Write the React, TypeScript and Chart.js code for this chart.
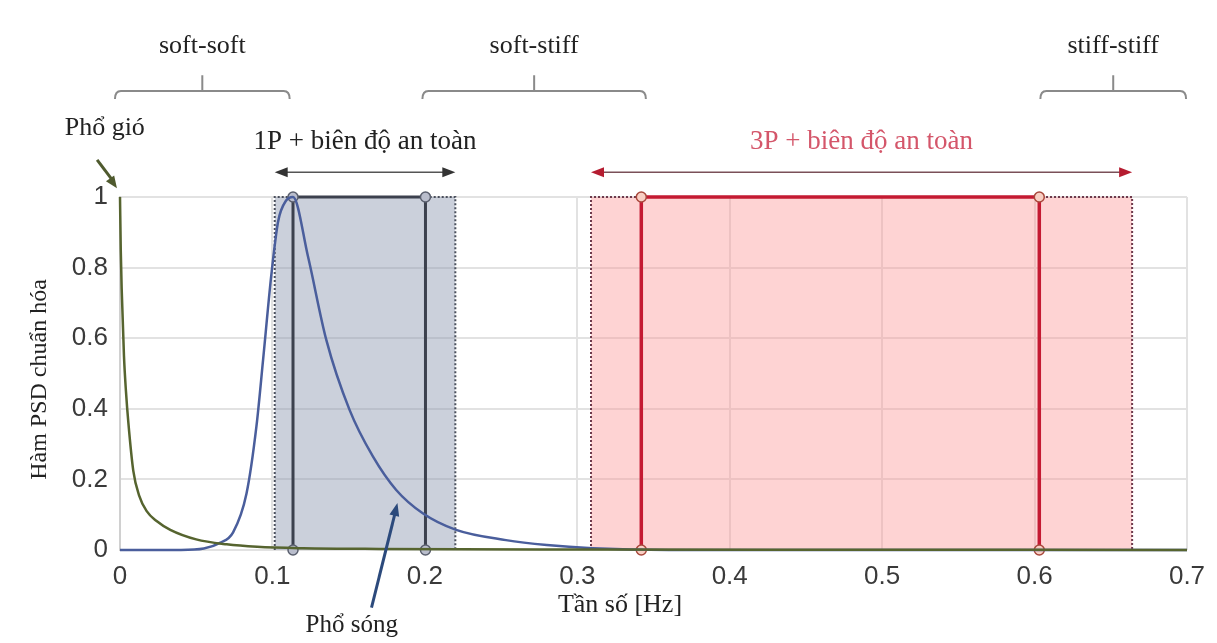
import React, { useEffect, useRef } from "react";
import { Chart, registerables } from "chart.js";

Chart.register(...registerables);

// ---- Data ----
const windFreq = [0, 0.0005, 0.0011, 0.0026, 0.0039, 0.0055, 0.0087, 0.0125, 0.0175, 0.024, 0.033, 0.05, 0.07, 0.09, 0.12, 0.17, 0.3, 0.5, 0.7];
const windPsd = [1, 0.85, 0.74, 0.55, 0.45, 0.36, 0.225, 0.155, 0.11, 0.082, 0.057, 0.03, 0.016, 0.009, 0.005, 0.003, 0.0015, 0.0007, 0.0003];

const waveFreq = [0, 0.04, 0.055, 0.0655, 0.0742, 0.083, 0.0895, 0.0939, 0.0993, 0.1037, 0.109, 0.1135, 0.1233, 0.1353, 0.1506, 0.1659, 0.1812, 0.1986, 0.2205, 0.2532, 0.28, 0.31, 0.36, 0.7];
const wavePsd = [0, 0, 0.004, 0.02, 0.05, 0.16, 0.35, 0.54, 0.78, 0.93, 0.99, 1, 0.832, 0.596, 0.397, 0.265, 0.17, 0.104, 0.057, 0.028, 0.014, 0.005, 0, 0];

// 1P band: outer (safety margin) and inner frequency range [Hz]
const band1POuter = [0.1015, 0.22];
const band1PInner = [0.1135, 0.2004];
// 3P band
const band3POuter = [0.309, 0.664];
const band3PInner = [0.342, 0.6031];

const xTicks = [0, 0.1, 0.2, 0.3, 0.4, 0.5, 0.6, 0.7];
const yTicks = [0, 0.2, 0.4, 0.6, 0.8, 1];

const brackets = [
  { label: "soft-soft", x0: -0.0033, x1: 0.1113 },
  { label: "soft-stiff", x0: 0.1984, x1: 0.345 },
  { label: "stiff-stiff", x0: 0.6038, x1: 0.6994 },
];

const label1P = "1P + biên độ an toàn";
const label3P = "3P + biên độ an toàn";
const labelWind = "Phổ gió";
const labelWave = "Phổ sóng";
const xTitle = "Tần số [Hz]";
const yTitle = "Hàm PSD chuẩn hóa";

const toPts = (xs: number[], ys: number[]) => xs.map((x, i) => ({ x, y: ys[i] }));
const boxPts = (r: number[]) => [
  { x: r[0], y: 0 },
  { x: r[0], y: 1 },
  { x: r[1], y: 1 },
  { x: r[1], y: 0 },
];

const SERIF = "'Liberation Serif', 'DejaVu Serif', serif";
const SANS = "'Liberation Sans', Arial, sans-serif";

function arrowHead(ctx: CanvasRenderingContext2D, x0: number, y0: number, x1: number, y1: number, len: number, w: number, color: string) {
  const a = Math.atan2(y1 - y0, x1 - x0);
  ctx.save();
  ctx.fillStyle = color;
  ctx.beginPath();
  ctx.moveTo(x1, y1);
  ctx.lineTo(x1 - len * Math.cos(a) + w * Math.sin(a), y1 - len * Math.sin(a) - w * Math.cos(a));
  ctx.lineTo(x1 - len * Math.cos(a) - w * Math.sin(a), y1 - len * Math.sin(a) + w * Math.cos(a));
  ctx.closePath();
  ctx.fill();
  ctx.restore();
}

const annotPlugin = {
  id: "annot",
  afterDraw(chart: any) {
    const ctx: CanvasRenderingContext2D = chart.ctx;
    const xs = chart.scales.x;
    const ys = chart.scales.y;
    const X = (v: number) => xs.getPixelForValue(v);
    const Y = (v: number) => ys.getPixelForValue(v);
    ctx.save();

    // Brackets
    ctx.strokeStyle = "#8a8a8a";
    ctx.lineWidth = 2;
    for (const b of brackets) {
      const yl = Y(1.3);
      const a = X(b.x0);
      const c = X(b.x1);
      const m = (a + c) / 2;
      ctx.beginPath();
      ctx.moveTo(a, yl + 8);
      ctx.quadraticCurveTo(a, yl, a + 6, yl);
      ctx.lineTo(c - 6, yl);
      ctx.quadraticCurveTo(c, yl, c, yl + 8);
      ctx.moveTo(m, yl);
      ctx.lineTo(m, Y(1.345));
      ctx.stroke();
      ctx.fillStyle = "#222";
      ctx.font = `26px ${SERIF}`;
      ctx.textAlign = "center";
      ctx.textBaseline = "middle";
      ctx.fillText(b.label, m, Y(1.427));
    }

    // 1P double arrow
    const ay = Y(1.07);
    ctx.strokeStyle = "#555";
    ctx.lineWidth = 1.5;
    ctx.beginPath();
    ctx.moveTo(X(band1POuter[0]) + 8, ay);
    ctx.lineTo(X(band1POuter[1]) - 8, ay);
    ctx.stroke();
    arrowHead(ctx, X(band1POuter[1]), ay, X(band1POuter[0]), ay, 13, 5, "#333");
    arrowHead(ctx, X(band1POuter[0]), ay, X(band1POuter[1]), ay, 13, 5, "#333");
    ctx.fillStyle = "#222";
    ctx.font = `27px ${SERIF}`;
    ctx.textAlign = "center";
    ctx.textBaseline = "middle";
    ctx.fillText(label1P, X((band1POuter[0] + band1POuter[1]) / 2), Y(1.155));

    // 3P double arrow
    ctx.strokeStyle = "#7a5058";
    ctx.beginPath();
    ctx.moveTo(X(band3POuter[0]) + 8, ay);
    ctx.lineTo(X(band3POuter[1]) - 8, ay);
    ctx.stroke();
    arrowHead(ctx, X(band3POuter[1]), ay, X(band3POuter[0]), ay, 13, 5, "#b51c30");
    arrowHead(ctx, X(band3POuter[0]), ay, X(band3POuter[1]), ay, 13, 5, "#b51c30");
    ctx.fillStyle = "#d4566a";
    ctx.fillText(label3P, X((band3POuter[0] + band3POuter[1]) / 2), Y(1.157));

    // Wind label + arrow
    ctx.fillStyle = "#222";
    ctx.font = `26px ${SERIF}`;
    ctx.fillText(labelWind, X(-0.01), Y(1.195));
    ctx.strokeStyle = "#4f5a2e";
    ctx.lineWidth = 3;
    ctx.beginPath();
    ctx.moveTo(X(-0.015), Y(1.105));
    ctx.lineTo(X(-0.0045), Y(1.045));
    ctx.stroke();
    arrowHead(ctx, X(-0.015), Y(1.105), X(-0.002), Y(1.025), 12, 5, "#4f5a2e");

    // Wave label + arrow
    ctx.fillStyle = "#222";
    ctx.font = `25px ${SERIF}`;
    ctx.fillText(labelWave, X(0.152), Y(-0.213));
    ctx.strokeStyle = "#2c4a7c";
    ctx.lineWidth = 3;
    ctx.beginPath();
    ctx.moveTo(X(0.165), Y(-0.163));
    ctx.lineTo(X(0.1805), Y(0.105));
    ctx.stroke();
    arrowHead(ctx, X(0.165), Y(-0.163), X(0.182), Y(0.133), 13, 5, "#2c4a7c");

    // Axis titles
    ctx.fillStyle = "#222";
    ctx.font = `26px ${SERIF}`;
    ctx.fillText(xTitle, X(0.328), Y(-0.157));
    ctx.save();
    ctx.translate(40, (chart.chartArea.top + chart.chartArea.bottom) / 2 + 6);
    ctx.rotate(-Math.PI / 2);
    ctx.font = `24px ${SERIF}`;
    ctx.fillText(yTitle, 0, 0);
    ctx.restore();

    ctx.restore();
  },
};

export default function App() {
  const ref = useRef<HTMLCanvasElement | null>(null);
  useEffect(() => {
    if (!ref.current) return;
    const grayMarker = { pointRadius: 5, pointBackgroundColor: "#b9bdcc", pointBorderColor: "#5a5f6e", pointBorderWidth: 1.5 };
    const redMarker = { pointRadius: 5, pointBackgroundColor: "#f8cfc4", pointBorderColor: "#a8483c", pointBorderWidth: 1.5 };
    const fmt = (v: any) => String(Math.round(Number(v) * 10) / 10);
    const chart = new Chart(ref.current, {
      type: "line",
      data: {
        datasets: [
          {
            data: boxPts(band1POuter),
            borderColor: "#4a4f5c",
            borderWidth: 2,
            borderDash: [2, 2],
            backgroundColor: "rgba(140,150,175,0.45)",
            fill: "origin",
            pointRadius: 0,
            tension: 0,
            order: 20,
            clip: false,
          } as any,
          {
            data: boxPts(band3POuter),
            borderColor: "#6e3a4c",
            borderWidth: 2,
            borderDash: [2, 2],
            backgroundColor: "rgba(252,150,150,0.42)",
            fill: "origin",
            pointRadius: 0,
            tension: 0,
            order: 19,
            clip: false,
          } as any,
          {
            data: boxPts(band1PInner),
            borderColor: "#3c414e",
            borderWidth: 3,
            fill: false,
            tension: 0,
            order: 3,
            clip: false,
            ...grayMarker,
          } as any,
          {
            data: boxPts(band3PInner),
            borderColor: "#c41a32",
            borderWidth: 3.5,
            fill: false,
            tension: 0,
            order: 4,
            clip: false,
            ...redMarker,
          } as any,
          {
            data: toPts(waveFreq, wavePsd),
            borderColor: "#4a5e9c",
            borderWidth: 2.5,
            fill: false,
            pointRadius: 0,
            cubicInterpolationMode: "monotone",
            order: 2,
            clip: false,
          } as any,
          {
            data: toPts(windFreq, windPsd),
            borderColor: "#56642f",
            borderWidth: 2.5,
            fill: false,
            pointRadius: 0,
            cubicInterpolationMode: "monotone",
            order: 1,
            clip: false,
          } as any,
        ],
      },
      options: {
        animation: false,
        responsive: true,
        maintainAspectRatio: false,
        layout: { padding: { top: 197, right: 30, left: 0, bottom: 0 } },
        plugins: { legend: { display: false }, tooltip: { enabled: false } },
        scales: {
          x: {
            type: "linear",
            min: 0,
            max: 0.7,
            afterBuildTicks: (s: any) => {
              s.ticks = xTicks.map((v) => ({ value: v }));
            },
            afterFit: (s: any) => {
              s.height = 93;
            },
            grid: { color: "#e2e2e2", lineWidth: 2, drawTicks: false },
            border: { display: false },
            ticks: { padding: 11, color: "#3a3a3a", font: { family: SANS, size: 26 }, callback: fmt },
          },
          y: {
            type: "linear",
            min: 0,
            max: 1,
            afterBuildTicks: (s: any) => {
              s.ticks = yTicks.map((v) => ({ value: v }));
            },
            afterFit: (s: any) => {
              s.width = 120;
            },
            grid: { color: "#e2e2e2", lineWidth: 2, drawTicks: false },
            border: { display: true, color: "#d0d0d0", width: 2 },
            ticks: { padding: 12, color: "#3a3a3a", font: { family: SANS, size: 26 }, callback: fmt },
          },
        },
      },
      plugins: [annotPlugin],
    });
    return () => chart.destroy();
  }, []);
  return (
    <div style={{ position: "fixed", left: 0, top: 0, width: 1217, height: 643, background: "#fff" }}>
      <canvas ref={ref} />
    </div>
  );
}
